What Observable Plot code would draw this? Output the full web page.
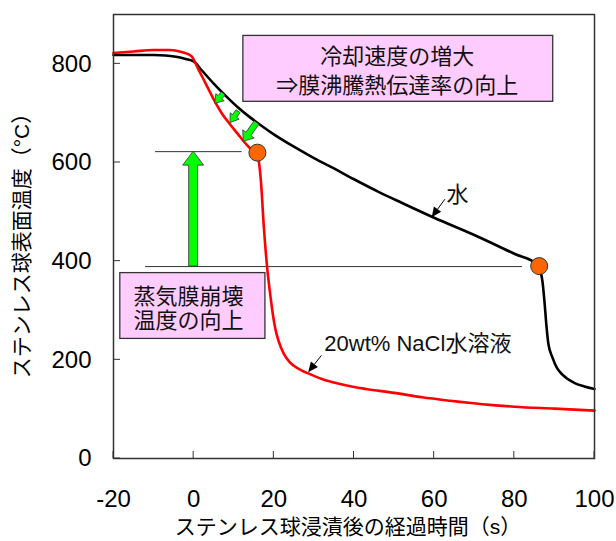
<!DOCTYPE html>
<html><head><meta charset="utf-8">
<script src="https://cdn.jsdelivr.net/npm/d3@7"></script>
<script src="https://cdn.jsdelivr.net/npm/@observablehq/plot@0.6"></script>
<style>
body{margin:0;background:#fff;}
#chart svg{display:block;}
</style></head><body><div id="chart"></div>
<script>
// ---- data ----
const waterTime = [-20, -15, -10, -7, -4, -2, 0, 2, 5, 8, 11, 14, 17, 20, 25, 30, 35, 40, 46, 52, 60, 70, 80, 86, 86.5, 87, 87.5, 88, 88.5, 89.5, 90.6, 92, 94.8, 97.5, 100];
const waterTemp = [818, 818, 818, 817, 814, 810, 805, 787, 760, 735, 712, 692, 674, 657, 632, 609, 588, 566, 541, 518, 488, 453, 415, 392, 380, 360, 320, 270, 232, 205, 184, 170, 154, 146, 141];
const naclTime = [-20, -15, -10, -6, -3, -1, -0.5, 1, 3, 5, 7, 9, 11, 13, 15, 15.9, 16.3, 16.8, 17.5, 18.3, 19.2, 19.8, 20.4, 21.2, 22.5, 24, 25, 27, 29, 32, 35, 40, 43, 50, 57, 64, 72, 80, 90, 100];
const naclTemp = [822, 825, 828, 828, 824, 818, 815, 792, 760, 728, 700, 678, 658, 638, 622, 618, 600, 560, 470, 390, 326, 290, 262, 238, 212, 195, 188, 178, 171, 161, 154, 145, 141, 133, 124, 117, 110, 105, 101, 97];

const xTicks = [-20, 0, 20, 40, 60, 80, 100];
const yTicks = [0, 200, 400, 600, 800];
const xTitle = "ステンレス球浸漬後の経過時間（s）";
const yTitle = "ステンレス球表面温度（°C）";

// film-collapse points
const collapseTime = [15.9, 86.2];
const collapseTemp = [620, 390];

// reference horizontal lines
const refX1 = [-9.5, -12];
const refX2 = [12.1, 82];
const refY = [622, 389];

// small green arrows (tail -> tip), cooling-rate increase
const coolX1 = [7.5, 11.2, 15.8];
const coolY1 = [739, 703, 680];
const coolX2 = [5.4, 9.2, 12.5];
const coolY2 = [719, 680, 642];

// big green arrow (rise of collapse temperature)
const riseX = [0];
const riseY1 = [389];
const riseY2 = [622];

// annotation boxes
const boxX1 = [12.4, -18.3];
const boxX2 = [89.7, 17.9];
const boxY1 = [856.6, 375.8];
const boxY2 = [723, 242.4];
const boxText = ["冷却速度の増大", "⇒膜沸騰熱伝達率の向上", "蒸気膜崩壊", "温度の向上"];
const boxTextX = [50.8, 50.8, -15, -15];
const boxTextY = [814, 756, 327, 279];
const boxTextAnchor = ["middle", "middle", "start", "start"];

// series labels with pointer arrows
const seriesLabel = ["水", "20wt% NaCl水溶液"];
const seriesLabelX = [65.8, 32.6];
const seriesLabelY = [535, 232];
const seriesLabelAnchor = ["middle", "start"];
const ptrX1 = [62.8, 32.0];
const ptrY1 = [524.6, 208];
const ptrX2 = [59.5, 28.7];
const ptrY2 = [488, 174];

// ---- build tables ----
const water = waterTime.map((t, i) => ({t, v: waterTemp[i]}));
const nacl = naclTime.map((t, i) => ({t, v: naclTemp[i]}));
const collapse = collapseTime.map((t, i) => ({t, v: collapseTemp[i]}));
const refs = refY.map((v, i) => ({x1: refX1[i], x2: refX2[i], y: v}));
const boxes = boxX1.map((x1, i) => ({x1, x2: boxX2[i], y1: boxY1[i], y2: boxY2[i]}));
const boxLines = boxText.map((s, i) => ({s, x: boxTextX[i], y: boxTextY[i], a: boxTextAnchor[i]}));
const labels = seriesLabel.map((s, i) => ({s, x: seriesLabelX[i], y: seriesLabelY[i], a: seriesLabelAnchor[i]}));

const FONT = "'Liberation Sans', Arial, 'Noto Sans CJK JP', sans-serif";
const NS = "http://www.w3.org/2000/svg";

function blockArrow(x1, y1, x2, y2, w, hw, hl) {
  const dx = x2 - x1, dy = y2 - y1, L = Math.hypot(dx, dy);
  const ux = dx / L, uy = dy / L, nx = -uy, ny = ux;
  const bx = x2 - ux * hl, by = y2 - uy * hl;
  const pts = [
    [x1 + nx * w / 2, y1 + ny * w / 2],
    [bx + nx * w / 2, by + ny * w / 2],
    [bx + nx * hw / 2, by + ny * hw / 2],
    [x2, y2],
    [bx - nx * hw / 2, by - ny * hw / 2],
    [bx - nx * w / 2, by - ny * w / 2],
    [x1 - nx * w / 2, y1 - ny * w / 2]
  ];
  return "M" + pts.map(p => p[0].toFixed(2) + "," + p[1].toFixed(2)).join("L") + "Z";
}
function el(tag, attrs) {
  const e = document.createElementNS(NS, tag);
  for (const k in attrs) e.setAttribute(k, attrs[k]);
  return e;
}

// inward ticks
function ticksLayer(index, scales, values, dim) {
  const {x, y} = scales;
  const g = el("g", {stroke: "#333", "stroke-width": 1});
  const bottom = dim.height - dim.marginBottom, left = dim.marginLeft;
  for (const t of xTicks) g.appendChild(el("line", {x1: x(t), x2: x(t), y1: bottom, y2: bottom - 7}));
  for (const t of yTicks) g.appendChild(el("line", {x1: left, x2: left + 7, y1: y(t), y2: y(t)}));
  return g;
}
// green block arrows
function greenArrows(index, scales) {
  const {x, y} = scales;
  const g = el("g", {fill: "#00FF00", stroke: "#333", "stroke-width": 0.8, "stroke-linejoin": "miter"});
  coolX1.forEach((_, i) => {
    const big = i === 2;
    g.appendChild(el("path", {d: blockArrow(x(coolX1[i]), y(coolY1[i]), x(coolX2[i]), y(coolY2[i]), big ? 6 : 5, big ? 14 : 11, big ? 9 : 8)}));
  });
  riseX.forEach((rx, i) => {
    g.appendChild(el("path", {d: blockArrow(x(rx), y(riseY1[i]), x(rx), y(riseY2[i]), 9, 21, 14)}));
  });
  return g;
}
// black pointer arrows
function pointerArrows(index, scales) {
  const {x, y} = scales;
  const g = el("g", {});
  ptrX1.forEach((_, i) => {
    const X1 = x(ptrX1[i]), Y1 = y(ptrY1[i]), X2 = x(ptrX2[i]), Y2 = y(ptrY2[i]);
    const L = Math.hypot(X2 - X1, Y2 - Y1), ux = (X2 - X1) / L, uy = (Y2 - Y1) / L;
    const hl = 10, hw = 9;
    const bx = X2 - ux * hl, by = Y2 - uy * hl;
    g.appendChild(el("line", {x1: X1, y1: Y1, x2: bx, y2: by, stroke: "#000", "stroke-width": 1}));
    g.appendChild(el("path", {d: `M${X2},${Y2}L${bx - uy * hw / 2},${by + ux * hw / 2}L${bx + uy * hw / 2},${by - ux * hw / 2}Z`, fill: "#000"}));
  });
  return g;
}

const chart = Plot.plot({
  width: 616,
  height: 541,
  marginLeft: 113,
  marginRight: 22,
  marginTop: 14,
  marginBottom: 83,
  x: {domain: [-20, 100]},
  y: {domain: [0, 900]},
  style: {fontFamily: FONT, background: "#fff", color: "#000"},
  marks: [
    Plot.axisX(xTicks, {tickSize: 0, tickPadding: 31, fontSize: 24, label: null, tickFormat: d => String(d)}),
    Plot.axisY(yTicks, {tickSize: 0, tickPadding: 22, fontSize: 24, label: null, tickFormat: d => String(d)}),
    Plot.text([xTitle], {frameAnchor: "bottom", lineAnchor: "middle", textAnchor: "middle", dy: 69, dx: -6, fontSize: 21}),
    Plot.text([yTitle], {frameAnchor: "left", lineAnchor: "middle", textAnchor: "middle", rotate: -90, dx: -91, dy: 4, fontSize: 21}),
    Plot.ruleY(refs, {x1: "x1", x2: "x2", y: "y", stroke: "#333", strokeWidth: 1}),
    Plot.rect(boxes, {x1: "x1", x2: "x2", y1: "y1", y2: "y2", fill: "#FFCCFF", stroke: "#333", strokeWidth: 1.3}),
    Plot.text(boxLines.filter(d => d.a === "middle"), {x: "x", y: "y", text: "s", textAnchor: "middle", fontSize: 22, fill: "#111"}),
    Plot.text(boxLines.filter(d => d.a === "start"), {x: "x", y: "y", text: "s", textAnchor: "start", fontSize: 22, fill: "#111"}),
    Plot.line(water, {x: "t", y: "v", stroke: "#000", strokeWidth: 2.6, curve: "monotone-x"}),
    Plot.line(nacl, {x: "t", y: "v", stroke: "#FF0000", strokeWidth: 2.6, curve: "monotone-x"}),
    greenArrows,
    pointerArrows,
    Plot.text(labels.filter(d => d.a === "middle"), {x: "x", y: "y", text: "s", textAnchor: "middle", fontSize: 22, fill: "#111"}),
    Plot.text(labels.filter(d => d.a === "start"), {x: "x", y: "y", text: "s", textAnchor: "start", fontSize: 22, fill: "#111"}),
    Plot.dot(collapse, {x: "t", y: "v", r: 8.5, fill: "#FF6600", stroke: "#333", strokeWidth: 1}),
    ticksLayer,
    Plot.frame({stroke: "#333", strokeWidth: 1.5})
  ]
});
document.getElementById("chart").appendChild(chart);
</script>
</body></html>
